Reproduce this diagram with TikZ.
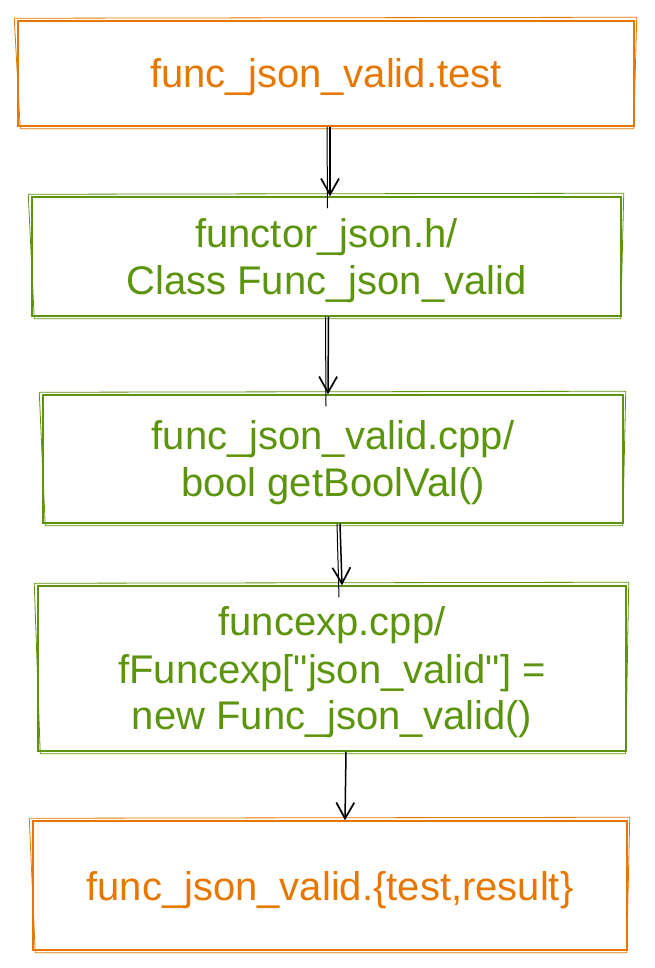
\documentclass[tikz,border=0pt]{standalone}
\usepackage{fontspec}
\setmainfont{Liberation Sans}
% same face without TeX ligatures, so that " stays a straight quote
\newfontfamily\straightquotes{Liberation Sans}
\newcommand{\dq}{{\straightquotes\symbol{34}}}
\usetikzlibrary{arrows.meta}
\definecolor{sketchorange}{HTML}{E67700}
\definecolor{sketchgreen}{HTML}{5C940D}
\tikzset{
  box/.style={draw, line width=1.5pt, inner sep=0pt, align=center, text depth=-4pt,
    font=\fontsize{40}{47}\selectfont},
  orangebox/.style={box, draw=sketchorange, text=sketchorange},
  greenbox/.style={box, draw=sketchgreen, text=sketchgreen},
  flow/.style={draw=black, line width=1.5pt, -{Straight Barb[length=16pt, width=18pt, line width=1.7pt]}},
  shaft/.style={draw=black, line width=1pt},
  shadowline/.style={line width=0.8pt},
}
\begin{document}
\begin{tikzpicture}[x=1pt, y=-1pt]
  \useasboundingbox (0,0) rectangle (654,968);

  % boxes, placed by their centres
  \node[orangebox, minimum width=616pt, minimum height=105pt] (test) at (326,73.5) {func\_json\_valid.test};
  \node[greenbox, minimum width=589pt, minimum height=119pt] (functor) at (326.5,256.5)
    {functor\_json.h/\\Class Func\_json\_valid};
  \node[greenbox, minimum width=580pt, minimum height=128pt] (cpp) at (333,459)
    {func\_json\_valid.cpp/\\bool getBoolVal()};
  \node[greenbox, minimum width=588pt, minimum height=165pt] (funcexp) at (332,668.5)
    {funcexp.cpp/\\fFuncexp[\dq json\_valid\dq] =\\ new Func\_json\_valid()};
  \node[orangebox, minimum width=594pt, minimum height=129pt] (result) at (330,885.5)
    {func\_json\_valid.\{test,result\}};

  % second, slightly offset strokes for the hand-drawn look
  \foreach \n/\c in {test/sketchorange, functor/sketchgreen, cpp/sketchgreen, funcexp/sketchgreen, result/sketchorange}{
    \draw[shadowline, draw=\c]
      ([shift={(-3,-2)}]\n.north west) -- ([shift={(2,-3)}]\n.north east)
      -- ([shift={(-1,2)}]\n.south east) -- ([shift={(3,2)}]\n.south west) -- cycle;
  }

  % connectors
  \draw[flow] ([xshift=4pt]test.south) -- ([xshift=3.5pt]functor.north);
  \draw[shaft] ([xshift=1pt]test.south) -- ([xshift=1pt,yshift=-12pt]functor.north);
  \draw[flow] ([xshift=2pt]functor.south) -- ([xshift=-5pt]cpp.north);
  \draw[shaft] ([xshift=-1pt]functor.south) -- ([xshift=-7pt,yshift=-12pt]cpp.north);
  \draw[flow] ([xshift=7pt]cpp.south) -- ([xshift=10pt]funcexp.north);
  \draw[shaft] ([xshift=4pt]cpp.south) -- ([xshift=7pt,yshift=-12pt]funcexp.north);
  \draw[flow] ([xshift=14pt]funcexp.south) -- ([xshift=15pt]result.north);
\end{tikzpicture}
\end{document}
